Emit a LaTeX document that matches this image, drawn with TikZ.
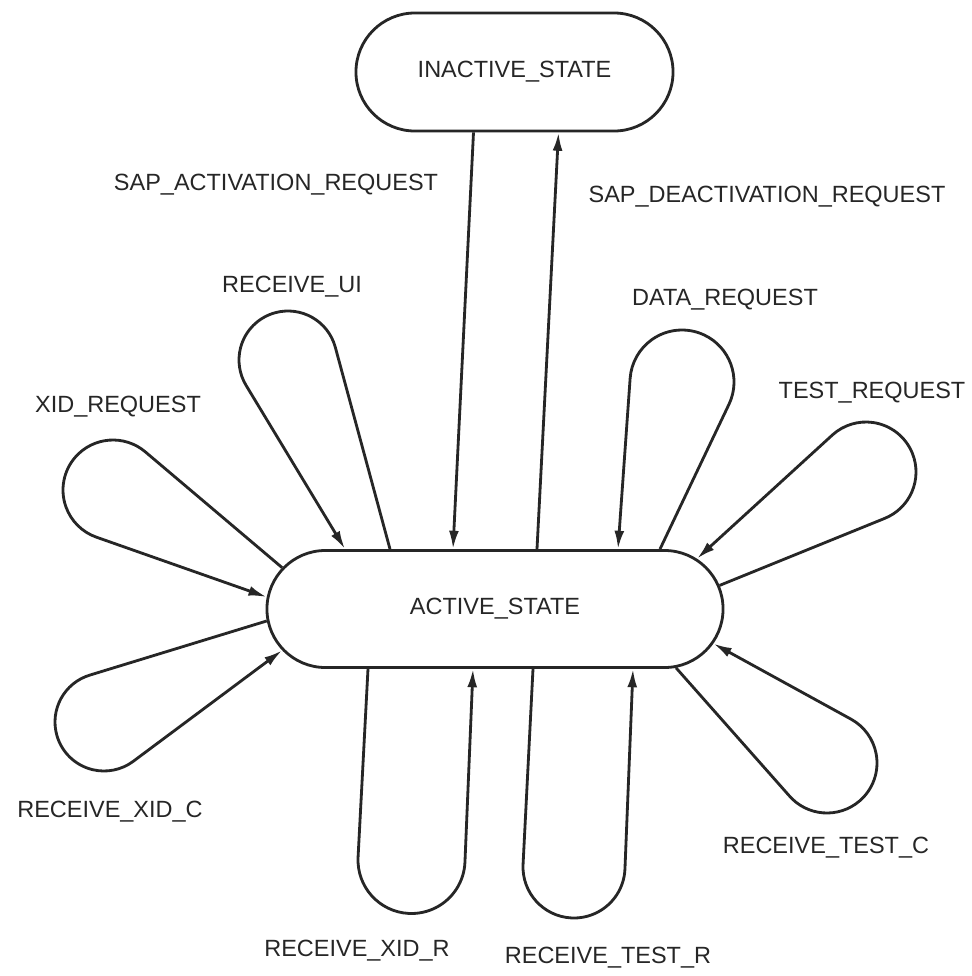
\documentclass[tikz,border=0pt]{standalone}
\usepackage{fontspec}
\setmainfont{Liberation Sans}
\usetikzlibrary{shapes.misc,arrows.meta,calc}

\begin{document}
\begin{tikzpicture}[x=0.025cm,y=-0.025cm,
  txt/.style={font=\fontsize{16.7pt}{20pt}\selectfont, text=black!85},
  state/.style={rounded rectangle, draw=black!85, line width=2pt, inner sep=0pt, txt},
  lbl/.style={txt, inner sep=0pt},
  flow/.style={draw=black!85, line width=2pt, line join=round,
               -{Latex[length=13pt,width=7pt]}}]
\useasboundingbox (0,0) rectangle (972,976);
\fill[white] (0,0) rectangle (972,976);

% states
\node[state, minimum width=7.925cm, minimum height=2.95cm] (inact) at (514.5,72) {INACTIVE\_STATE};
\node[state, minimum width=11.4cm, minimum height=2.925cm] (act) at (495,609) {ACTIVE\_STATE};

% activation / deactivation
\draw[flow] ($(inact.south)+(-41,0)$) -- ($(act.north)+(-42,0)$);
\draw[flow] ($(act.north)+(42,0)$) -- ($(inact.south)+(44,0)$);

% self transitions of the active state
% RECEIVE_UI
\draw[flow] ($(act.north)+(-105,0)$) -- ($(288,360)+(-15.3:49)$)
  arc[start angle=-15.3, end angle=-211.5, radius=49] -- ($(act.north)+(-150,0)$);
% XID_REQUEST
\draw[flow] (act.169) -- ($(113,490)+(-49.4:50)$)
  arc[start angle=-49.4, end angle=-250.7, radius=50] -- (act.177);
% RECEIVE_XID_C
\draw[flow] (act.183) -- ($(104,722)+(-106.4:49)$)
  arc[start angle=-106.4, end angle=-306.3, radius=49] -- (act.191);
% DATA_REQUEST
\draw[flow] ($(act.north)+(165,0)$) -- ($(682,382)+(24.9:52)$)
  arc[start angle=24.9, end angle=-176.05, radius=52] -- ($(act.north)+(123,0)$);
% TEST_REQUEST
\draw[flow] (act.6) -- ($(866,472)+(68.2:50)$)
  arc[start angle=68.2, end angle=-131.7, radius=50] -- (act.14);
% RECEIVE_TEST_C
\draw[flow] (act.342) -- ($(827,763)+(139.6:50)$)
  arc[start angle=139.6, end angle=-61.4, radius=50] -- (act.351);
% RECEIVE_XID_R
\draw[flow] ($(act.south)+(-127,0)$) -- ($(411.5,860)+(183:53.5)$)
  arc[start angle=183, end angle=2.3, radius=53.5] -- ($(act.south)+(-22,0)$);
% RECEIVE_TEST_R
\draw[flow] ($(act.south)+(38,0)$) -- ($(574,867)+(182.9:51)$)
  arc[start angle=182.9, end angle=2.3, radius=51] -- ($(act.south)+(138,0)$);

% event labels
\node[lbl] (lsapact) at (276,185) {SAP\_ACTIVATION\_REQUEST};
\node[lbl] (lsapdeact) at (767,197) {SAP\_DEACTIVATION\_REQUEST};
\node[lbl] (lrui) at (292,287) {RECEIVE\_UI};
\node[lbl] (ldata) at (725,300) {DATA\_REQUEST};
\node[lbl] (lxid) at (118,407) {XID\_REQUEST};
\node[lbl] (ltest) at (872,393) {TEST\_REQUEST};
\node[lbl] (lrxidc) at (110,812) {RECEIVE\_XID\_C};
\node[lbl] (lrtestc) at (826,848) {RECEIVE\_TEST\_C};
\node[lbl] (lrxidr) at (357,951) {RECEIVE\_XID\_R};
\node[lbl] (lrtestr) at (608,958) {RECEIVE\_TEST\_R};
\end{tikzpicture}
\end{document}
